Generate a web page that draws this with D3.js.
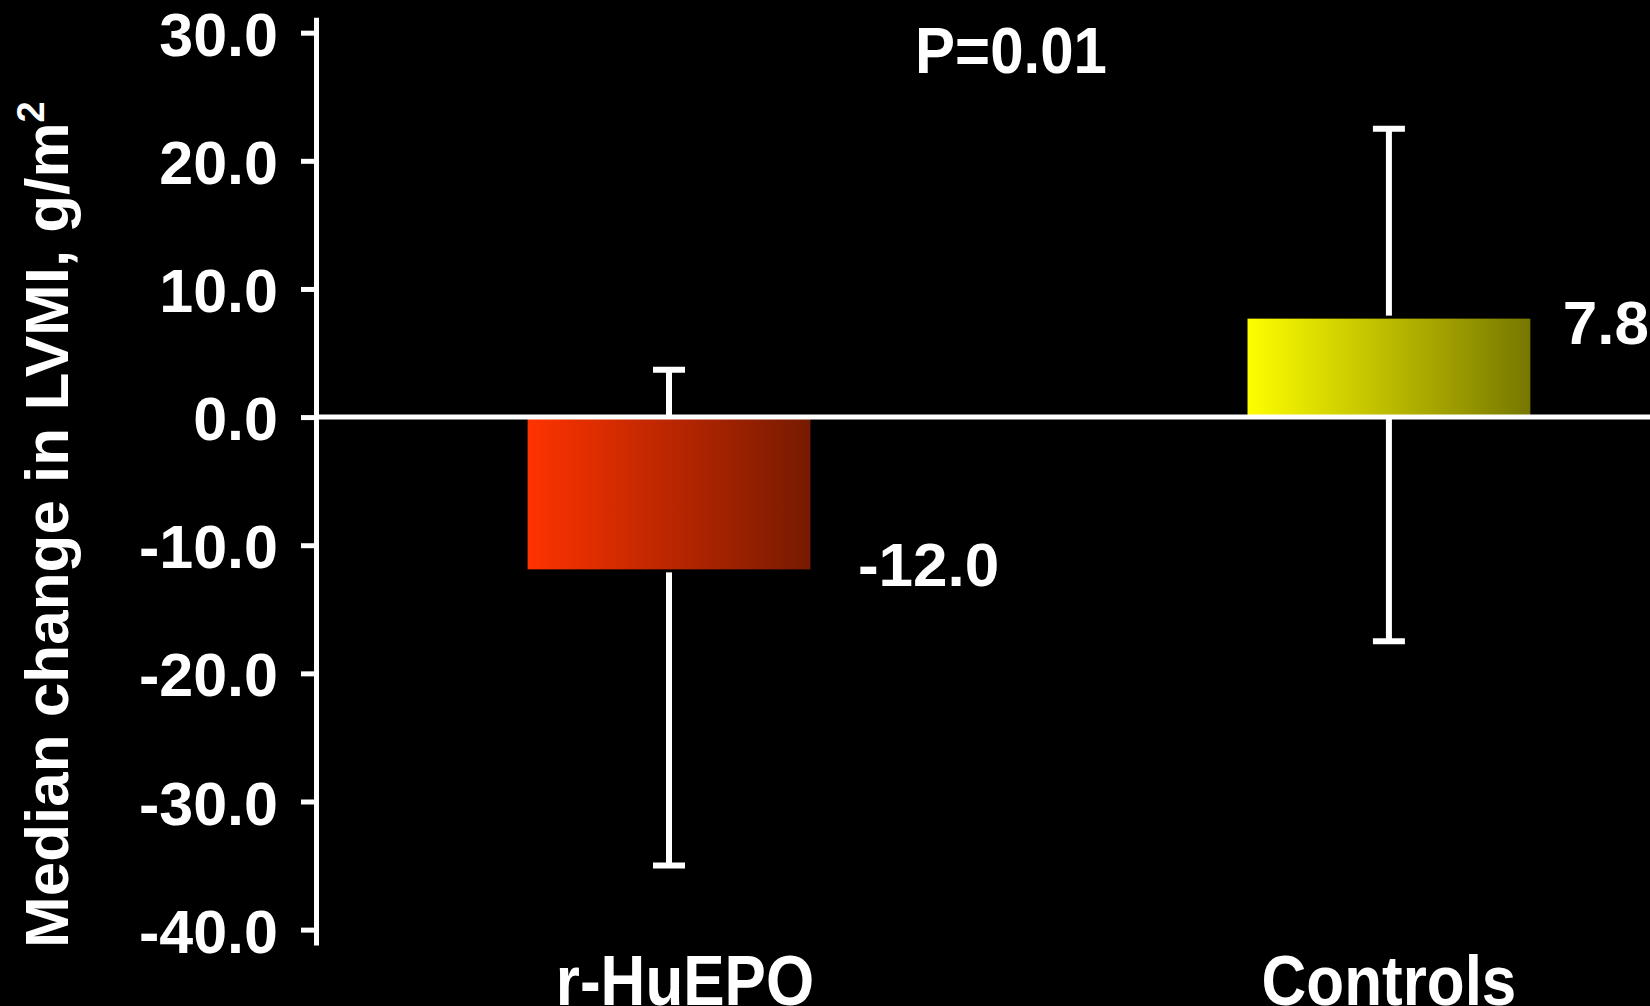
<!DOCTYPE html>
<html>
<head>
<meta charset="utf-8">
<script src="https://cdn.jsdelivr.net/npm/d3@7"></script>
<style>
  html, body { margin: 0; padding: 0; background: #000; }
  svg { display: block; }
  text { font-family: "Liberation Sans", Arial, Helvetica, sans-serif; font-weight: bold; fill: #fff; }
</style>
</head>
<body>
<svg id="chart" width="1650" height="1006"></svg>
<script>
// Median change in LVMI (g/m²) by group, with range whiskers
const categories = ["r-HuEPO", "Controls"];
const medians    = [-12.0, 7.8];
const lowValues  = [-35.0, -17.5];
const highValues = [3.7, 22.5];
const yTicks     = [30, 20, 10, 0, -10, -20, -30, -40];
const pValueText = "P=0.01";

// layout constants
const W = 1650, H = 1006;
const axisX = 316;
const labelDx = [46, 31];      // value label offset to the right of each bar
const labelDy = [15, 27];      // value label baseline offset from the bar end
const catShift = [16, 0];      // small horizontal nudge of category labels
const gradients = [
  { id: "gradRed",    from: "#ff3300", to: "#761a00" },
  { id: "gradYellow", from: "#ffff00", to: "#767600" }
];

const svg = d3.select("#chart");
svg.append("rect").attr("width", W).attr("height", H).attr("fill", "#000");

const defs = svg.append("defs");
gradients.forEach(g => {
  const lg = defs.append("linearGradient").attr("id", g.id)
    .attr("x1", "0%").attr("x2", "100%").attr("y1", "0%").attr("y2", "0%");
  lg.append("stop").attr("offset", "0%").attr("stop-color", g.from);
  lg.append("stop").attr("offset", "100%").attr("stop-color", g.to);
});

const y = d3.scaleLinear().domain([-41.2, 31.2]).range([945, 17.3]);
const x = d3.scaleBand().domain(categories).range([axisX, W])
  .paddingInner(0.603).paddingOuter(0.228).align(0.64);

const rows = categories.map((c, i) => ({
  cat: c, median: medians[i], low: lowValues[i], high: highValues[i], i
}));

// whiskers (stems + caps)
const capW = 32;
const wh = svg.append("g").attr("stroke", "#fff").attr("stroke-width", 6);
rows.forEach(d => {
  const cx = x(d.cat) + x.bandwidth() / 2;
  wh.append("line").attr("x1", cx).attr("x2", cx).attr("y1", y(d.low)).attr("y2", y(d.high));
  wh.append("line").attr("x1", cx - capW / 2).attr("x2", cx + capW / 2).attr("y1", y(d.low)).attr("y2", y(d.low));
  wh.append("line").attr("x1", cx - capW / 2).attr("x2", cx + capW / 2).attr("y1", y(d.high)).attr("y2", y(d.high));
});

// bars
svg.append("g").selectAll("rect").data(rows).join("rect")
  .attr("x", d => x(d.cat))
  .attr("width", x.bandwidth())
  .attr("y", d => y(Math.max(0, d.median)))
  .attr("height", d => Math.abs(y(d.median) - y(0)))
  .attr("fill", d => `url(#${gradients[d.i].id})`)
  .attr("stroke", "#000").attr("stroke-width", 3);

// zero line
svg.append("line")
  .attr("x1", axisX).attr("x2", W)
  .attr("y1", y(0)).attr("y2", y(0))
  .attr("stroke", "#fff").attr("stroke-width", 5);

// y axis
const yAxis = d3.axisLeft(y)
  .tickValues(yTicks)
  .tickFormat(d => d.toFixed(1))
  .tickSize(15)
  .tickSizeOuter(0)
  .tickPadding(23);
const gy = svg.append("g").attr("transform", `translate(${axisX},0)`).call(yAxis);
gy.select(".domain").attr("stroke", "#fff").attr("stroke-width", 5);
gy.selectAll(".tick line").attr("stroke", "#fff").attr("stroke-width", 5);
gy.selectAll(".tick text")
  .attr("fill", "#fff")
  .attr("font-size", 61)
  .attr("font-family", "\"Liberation Sans\", Arial, sans-serif")
  .attr("font-weight", "bold")
  .attr("dy", "0.37em");

// value labels
svg.append("g").selectAll("text").data(rows).join("text")
  .attr("x", d => x(d.cat) + x.bandwidth() + labelDx[d.i])
  .attr("y", d => y(d.median) + labelDy[d.i])
  .attr("font-size", 62)
  .text(d => d.median.toFixed(1));

// category labels (run to the lower edge)
svg.append("g").selectAll("text").data(rows).join("text")
  .attr("text-anchor", "middle")
  .attr("transform", d => `translate(${x(d.cat) + x.bandwidth() / 2 + catShift[d.i]},1005) scale(1,1.15)`)
  .attr("font-size", 62)
  .text(d => d.cat);

// p-value
svg.append("text")
  .attr("text-anchor", "middle")
  .attr("transform", "translate(1011,73) scale(1,1.07)")
  .attr("font-size", 60)
  .text(pValueText);

// y-axis title
const title = svg.append("text")
  .attr("transform", "translate(68,948) rotate(-90)")
  .attr("font-size", 62);
title.append("tspan").text("Median change in LVMI, g/m");
title.append("tspan").attr("font-size", 38).attr("dy", -24).text("2");
</script>
</body>
</html>
